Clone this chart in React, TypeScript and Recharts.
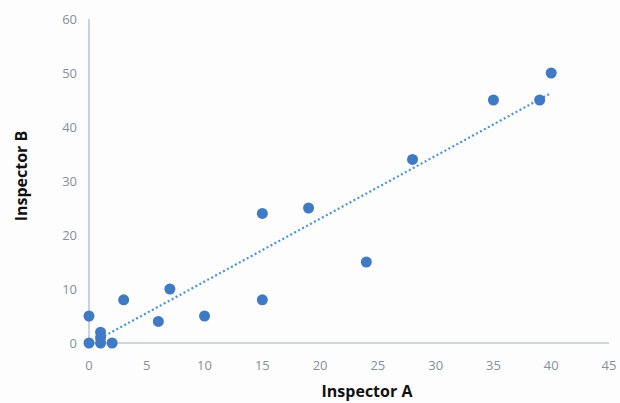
import React from 'react';
import { ScatterChart, Scatter, XAxis, YAxis, ZAxis } from 'recharts';

// Inspector A / Inspector B readings
const inspectorA = [0, 0, 1, 1, 1, 2, 3, 6, 7, 10, 15, 15, 19, 24, 28, 35, 39, 40];
const inspectorB = [0, 5, 0, 1, 2, 0, 8, 4, 10, 5, 24, 8, 25, 15, 34, 45, 45, 50];

// dotted trendline ends
const trendA = [1, 40];
const trendB = [0.9, 46.3];

const xTicks = [0, 5, 10, 15, 20, 25, 30, 35, 40, 45];
const yTicks = [0, 10, 20, 30, 40, 50, 60];

const points = inspectorA.map((a, i) => ({ a, b: inspectorB[i] }));
const trend = trendA.map((a, i) => ({ a, b: trendB[i] }));

const FONT = '"Open Sans", "Liberation Sans", sans-serif';
const tickStyle = { fill: '#86909a', fontSize: 13, fontFamily: FONT };

const Dot = (props: any) => (
  <circle cx={props.cx} cy={props.cy} r={5.5} fill="#3f7bc4" />
);

export default function App() {
  return (
    <div style={{ position: 'fixed', left: 0, top: 0, width: 620, height: 403, background: '#fdfdfe' }}>
      <style>{'html,body{margin:0;overflow:hidden}'}</style>
      <ScatterChart
        width={620}
        height={403}
        margin={{ top: 19, right: 11, left: 0, bottom: 0 }}
        style={{ overflow: 'visible' }}
      >
        <XAxis
          type="number"
          dataKey="a"
          domain={[0, 45]}
          ticks={xTicks}
          height={60}
          tickLine={false}
          axisLine={{ stroke: '#c3c8cf', strokeWidth: 1.5 }}
          tick={tickStyle}
          tickMargin={12}
          label={{
            value: 'Inspector A',
            position: 'insideBottom',
            offset: 6,
            dx: 18,
            style: { fill: '#111', fontSize: 16, fontWeight: 700, fontFamily: FONT },
          }}
        />
        <YAxis
          type="number"
          dataKey="b"
          domain={[0, 60]}
          ticks={yTicks}
          width={89}
          tickLine={false}
          axisLine={{ stroke: '#b7c5d6', strokeWidth: 1.5 }}
          tick={tickStyle}
          tickMargin={6}
          label={{
            value: 'Inspector B',
            angle: -90,
            position: 'insideLeft',
            offset: 21,
            dy: -5,
            style: { fill: '#111', fontSize: 16, fontWeight: 700, fontFamily: FONT, textAnchor: 'middle' },
          }}
        />
        <ZAxis range={[95, 95]} />
        <Scatter
          data={trend}
          line={{ stroke: '#4a92dc', strokeWidth: 2.2, strokeDasharray: '2 2.5' }}
          shape={() => null}
          isAnimationActive={false}
        />
        <Scatter data={points} shape={Dot} isAnimationActive={false} />
      </ScatterChart>
    </div>
  );
}
